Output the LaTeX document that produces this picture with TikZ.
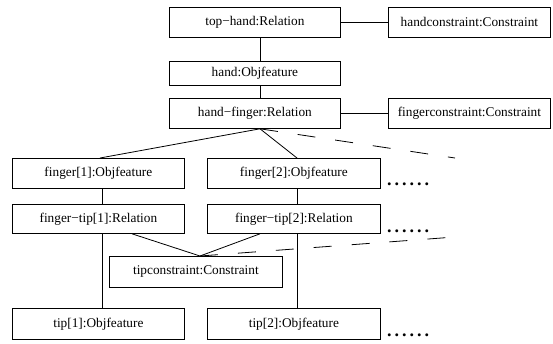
\documentclass[tikz,border=0pt]{standalone}
\usepackage{fontspec}
\setmainfont{Liberation Serif}
\usetikzlibrary{calc}
\begin{document}
\begin{tikzpicture}[x=1pt,y=-1pt,
  box/.style={draw, line width=0.8pt, inner sep=0pt, anchor=north west, font=\fontsize{13.3}{16}\selectfont},
  conn/.style={line width=0.8pt},
  dashconn/.style={line width=0.8pt, dash pattern=on 18pt off 20pt},
  dotrow/.style={inner sep=0pt, anchor=base west, font=\fontsize{18}{20}\selectfont\bfseries}]
\useasboundingbox (0,0) rectangle (553,343);
\newcommand\mybox[6]{\node[box, minimum width=#4pt, minimum height=#5pt] (#1) at (#2,#3) {#6};}
\mybox{th}{169}{7}{171}{30}{top−hand:Relation}
\mybox{hc}{388}{7}{162}{30}{handconstraint:Constraint}
\mybox{hand}{169}{61}{171}{24}{hand:Objfeature}
\mybox{hf}{169}{98}{171}{30}{hand−finger:Relation}
\mybox{fc}{388}{98}{162}{30}{fingerconstraint:Constraint}
\mybox{f1}{12}{158}{172}{30}{finger[1]:Objfeature}
\mybox{f2}{207}{158}{173}{30}{finger[2]:Objfeature}
\mybox{ft1}{12}{204}{172}{29}{finger−tip[1]:Relation}
\mybox{ft2}{207}{204}{173}{29}{finger−tip[2]:Relation}
\mybox{tc}{109}{256}{173}{31}{tipconstraint:Constraint}
\mybox{t1}{12}{308}{172}{31}{tip[1]:Objfeature}
\mybox{t2}{207}{308}{173}{31}{tip[2]:Objfeature}
\newcommand\mydots{.\hspace{3pt}.\hspace{3pt}.\hspace{3pt}.\hspace{3pt}.\hspace{3pt}.}
\node[dotrow] (d1) at (387,185.5) {\mydots};
\node[dotrow] (d2) at (387,232.5) {\mydots};
\node[dotrow] (d3) at (387,336.5) {\mydots};
\coordinate (e1) at (455,158);
\coordinate (e2) at (455,237);
% vertical chain at top
\draw[conn] ($(th.south west)+(91,0)$) -- ($(hand.north west)+(91,0)$);
\draw[conn] ($(hand.south west)+(91,0)$) -- ($(hf.north west)+(91,0)$);
\draw[conn] (th.east) -- (hc.west);
\draw[conn] (hf.east) -- (fc.west);
% fan from hand-finger
\draw[conn] ($(hf.south west)+(91,0)$) -- ($(f1.north west)+(88,0)$);
\draw[conn] ($(hf.south west)+(91,0)$) -- ($(f2.north west)+(90,0)$);
\draw[dashconn] ($(hf.south west)+(91,0)$) -- (e1);
% finger chains
\draw[conn] ($(f1.south west)+(90,0)$) -- ($(ft1.north west)+(90,0)$);
\draw[conn] ($(ft1.south west)+(90,0)$) -- ($(t1.north west)+(90,0)$);
\draw[conn] ($(f2.south west)+(90,0)$) -- ($(ft2.north west)+(90,0)$);
\draw[conn] ($(ft2.south west)+(90,0)$) -- ($(t2.north west)+(90,0)$);
% tip constraint
\draw[conn] ($(ft1.south west)+(120,0)$) -- ($(tc.north west)+(91,0)$);
\draw[conn] ($(ft2.south west)+(53,0)$) -- ($(tc.north west)+(91,0)$);
\draw[dashconn] ($(tc.north west)+(91,0)$) -- (e2);
\end{tikzpicture}
\end{document}
